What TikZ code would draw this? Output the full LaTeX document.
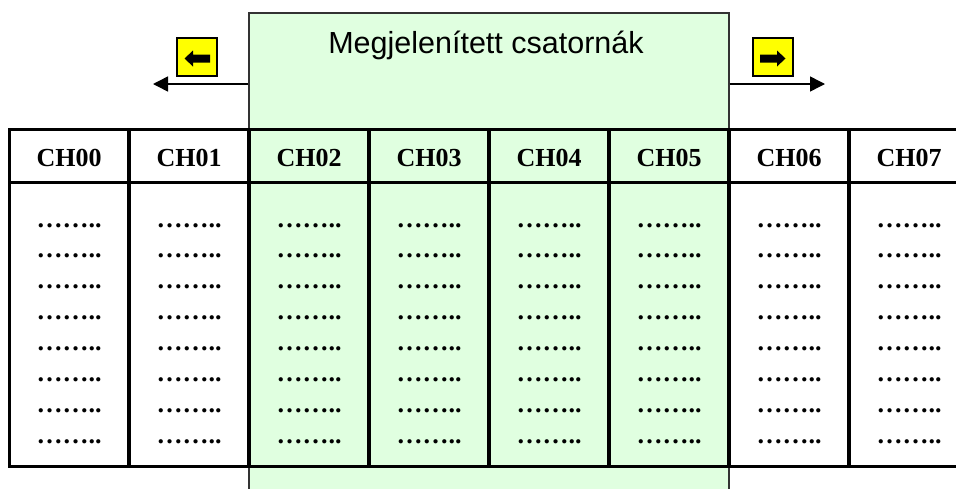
\documentclass[tikz,border=0pt]{standalone}
\usepackage{fontspec}
\setmainfont{Liberation Serif}
\newfontfamily\arialfont{Liberation Sans}
\usepackage{tikz}
\usetikzlibrary{arrows.meta}

\definecolor{viewgreen}{RGB}{224,255,224}
\definecolor{btnyellow}{RGB}{255,255,0}

\tikzset{
    cell/.style={anchor=base, font=\bfseries\fontsize{26}{30}\selectfont, inner sep=0pt},
    btn/.style={draw=black, line width=1.2pt, fill=btnyellow, minimum width=40pt, minimum height=38pt, inner sep=0pt},
    btnsym/.style={fill=black}
}

\newcommand{\btnarrow}{(-12.5,1.5) -- (-4,-6.5) -- (-4,-2.5) -- (13,-2.5) -- (13,5.5) -- (-4,5.5) -- (-4,9.5) -- cycle}

\begin{document}
\begin{tikzpicture}[x=1pt, y=-1pt, >={Triangle[length=15pt,width=15pt]}]
    \useasboundingbox (0,0) rectangle (956,488);
    \clip (0,0) rectangle (956,488);

    \node[draw=black!80, line width=1.2pt, fill=viewgreen, minimum width=480pt, minimum height=490pt, inner sep=0pt] (view) at (489,258) {};
    \node[anchor=base, font=\arialfont\fontsize{30.5}{34}\selectfont, inner sep=0pt] (title) at (486,53) {Megjelenített csatornák};

    \coordinate (leftend) at (153,84);
    \coordinate (rightend) at (825,84);
    \draw[->, line width=1.5pt] (view.west |- leftend) -- (leftend);
    \draw[->, line width=1.5pt] (view.east |- rightend) -- (rightend);

    \node[btn] (leftbtn) at (197,57) {};
    \node[btn] (rightbtn) at (773,57) {};
    \fill[btnsym, shift={(leftbtn.center)}] \btnarrow;
    \fill[btnsym, shift={(rightbtn.center)}, xscale=-1] \btnarrow;

    \draw[line width=3pt] (9,129) rectangle (969,466);
    \draw[line width=3pt] (9,182) -- (969,182);
    \foreach \i in {1,...,7}
        \draw[line width=3.5pt] (9+120*\i,129) -- (9+120*\i,466);

    \foreach \i in {0,...,7} {
        \node[cell] (ch0\i) at (69+120*\i,166.5) {CH0\i};
        \foreach \r in {0,...,7}
            \node[cell] (dots\i\r) at (69+120*\i,227+30.9*\r) {……..};
    }

\end{tikzpicture}
\end{document}
